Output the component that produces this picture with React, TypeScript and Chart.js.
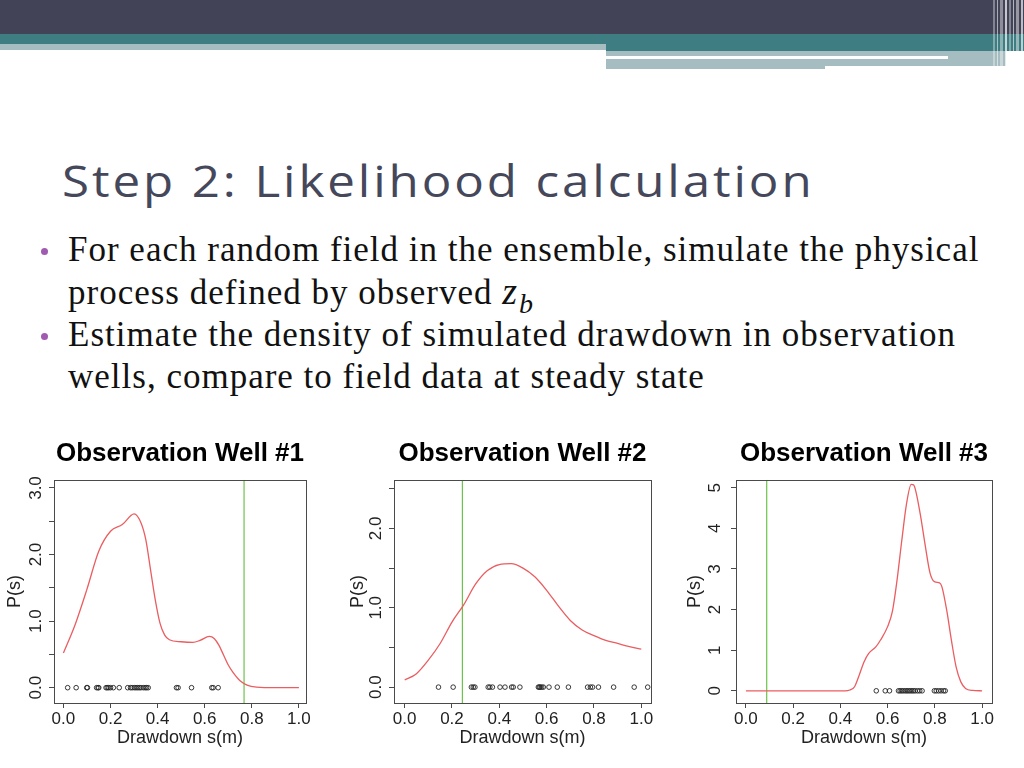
import React, { useEffect, useRef } from "react";
import { Chart, registerables } from "chart.js";

Chart.register(...registerables);

// ---------- data ----------
const chartTitles = ["Observation Well #1", "Observation Well #2", "Observation Well #3"];
const xAxisTitle = "Drawdown s(m)";
const yAxisTitle = "P(s)";

const xTickValues = [0, 0.2, 0.4, 0.6, 0.8, 1.0];
const xTickLabels = ["0.0", "0.2", "0.4", "0.6", "0.8", "1.0"];

// Well 1
const well1DensityX = [0, 0.05, 0.1, 0.15, 0.2, 0.25, 0.3, 0.33, 0.35, 0.37, 0.39, 0.41, 0.43, 0.45, 0.5, 0.55, 0.58, 0.62, 0.64, 0.66, 0.68, 0.7, 0.72, 0.75, 0.78, 0.82, 0.9, 1.0];
const well1DensityY = [0.52, 0.95, 1.48, 2.05, 2.35, 2.45, 2.61, 2.47, 2.22, 1.77, 1.32, 0.97, 0.79, 0.72, 0.69, 0.68, 0.71, 0.77, 0.74, 0.64, 0.49, 0.34, 0.23, 0.105, 0.04, 0.01, 0, 0];
const well1Samples = [0.018, 0.054, 0.099, 0.102, 0.141, 0.147, 0.15, 0.181, 0.186, 0.192, 0.2, 0.212, 0.237, 0.273, 0.285, 0.292, 0.301, 0.308, 0.315, 0.322, 0.329, 0.339, 0.347, 0.353, 0.36, 0.48, 0.487, 0.544, 0.63, 0.636, 0.657];
const well1Observed = 0.767;
const well1YTicks = [0, 0.5, 1, 1.5, 2, 2.5, 3];
const well1YLabels = ["0.0", "", "1.0", "", "2.0", "", "3.0"];

// Well 2
const well2DensityX = [0, 0.05, 0.1, 0.15, 0.2, 0.25, 0.3, 0.35, 0.4, 0.45, 0.5, 0.55, 0.6, 0.65, 0.7, 0.75, 0.8, 0.85, 0.9, 0.95, 1.0];
const well2DensityY = [0.09, 0.17, 0.34, 0.55, 0.82, 1.04, 1.3, 1.47, 1.545, 1.555, 1.5, 1.39, 1.22, 1.02, 0.84, 0.72, 0.65, 0.59, 0.55, 0.51, 0.48];
const well2Samples = [0.143, 0.205, 0.282, 0.29, 0.297, 0.353, 0.36, 0.371, 0.403, 0.424, 0.452, 0.459, 0.487, 0.565, 0.569, 0.573, 0.579, 0.586, 0.61, 0.645, 0.692, 0.773, 0.785, 0.794, 0.819, 0.883, 0.97, 1.027];
const well2Observed = 0.244;
const well2YTicks = [0, 0.5, 1, 1.5, 2, 2.5];
const well2YLabels = ["0.0", "", "1.0", "", "2.0", ""];

// Well 3
const well3DensityX = [0, 0.2, 0.42, 0.44, 0.46, 0.48, 0.5, 0.52, 0.55, 0.57, 0.6, 0.62, 0.64, 0.66, 0.68, 0.7, 0.71, 0.72, 0.74, 0.76, 0.78, 0.8, 0.82, 0.83, 0.85, 0.87, 0.89, 0.91, 0.93, 0.96, 1.0];
const well3DensityY = [0, 0, 0, 0.02, 0.1, 0.39, 0.71, 0.92, 1.08, 1.25, 1.58, 1.95, 2.73, 3.7, 4.6, 5.08, 5.07, 4.9, 4.29, 3.55, 2.89, 2.68, 2.66, 2.56, 1.99, 1.25, 0.59, 0.22, 0.06, 0.01, 0];
const well3Samples = [0.552, 0.59, 0.608, 0.646, 0.653, 0.66, 0.667, 0.675, 0.682, 0.689, 0.696, 0.703, 0.71, 0.717, 0.727, 0.736, 0.746, 0.798, 0.806, 0.816, 0.826, 0.837, 0.844];
const well3Observed = 0.088;
const well3YTicks = [0, 1, 2, 3, 4, 5];
const well3YLabels = ["0", "1", "2", "3", "4", "5"];

// ---------- chart setup ----------
const wells = [
  { title: chartTitles[0], dx: well1DensityX, dy: well1DensityY, samples: well1Samples, observed: well1Observed, yTicks: well1YTicks, yLabels: well1YLabels, xMin: -0.04, xMax: 1.03, yMin: -0.23, yMax: 3.12 },
  { title: chartTitles[1], dx: well2DensityX, dy: well2DensityY, samples: well2Samples, observed: well2Observed, yTicks: well2YTicks, yLabels: well2YLabels, xMin: -0.045, xMax: 1.041, yMin: -0.2, yMax: 2.61 },
  { title: chartTitles[2], dx: well3DensityX, dy: well3DensityY, samples: well3Samples, observed: well3Observed, yTicks: well3YTicks, yLabels: well3YLabels, xMin: -0.042, xMax: 1.042, yMin: -0.3, yMax: 5.19 },
];

const frames = [
  { left: 0, width: 320, padRight: 14, yAxisWidth: 54, yLabelPad: 1.2, yTitlePad: 4.2 },
  { left: 340, width: 330, padRight: 19, yAxisWidth: 54, yLabelPad: 1.2, yTitlePad: 7.2 },
  { left: 682, width: 342, padRight: 32, yAxisWidth: 54, yLabelPad: 11.3, yTitlePad: 2.2 },
];

const SANS = "'Liberation Sans', Arial, sans-serif";
const AXIS_COLOR = "#4a4a4a";
const TEXT_COLOR = "#222";

const boxPlugin = {
  id: "rbox",
  afterDraw(chart: any) {
    const { ctx, chartArea: a } = chart;
    ctx.save();
    ctx.strokeStyle = AXIS_COLOR;
    ctx.lineWidth = 1;
    const l = Math.round(a.left) + 0.5;
    const t = Math.round(a.top) + 0.5;
    ctx.strokeRect(l, t, Math.round(a.right) - Math.round(a.left), Math.round(a.bottom) - Math.round(a.top));
    ctx.restore();
  },
};

function WellChart({ idx }: { idx: number }) {
  const ref = useRef<HTMLCanvasElement | null>(null);
  const w = wells[idx];
  const f = frames[idx];
  useEffect(() => {
    if (!ref.current) return;
    const chart = new Chart(ref.current, {
      type: "line",
      data: {
        datasets: [
          {
            label: "density",
            data: w.dx.map((x, i) => ({ x, y: w.dy[i] })),
            borderColor: "#ea5d60",
            borderWidth: 1.3,
            pointRadius: 0,
            cubicInterpolationMode: "monotone",
            fill: false,
          },
          {
            label: "observed",
            data: [
              { x: w.observed, y: w.yMin },
              { x: w.observed, y: w.yMax },
            ],
            borderColor: "#6cc44a",
            borderWidth: 1.2,
            pointRadius: 0,
            fill: false,
          },
          {
            type: "scatter",
            label: "samples",
            data: w.samples.map((x) => ({ x, y: 0 })),
            showLine: false,
            pointRadius: 2.3,
            pointBorderWidth: 0.9,
            borderColor: "#222",
            backgroundColor: "rgba(0,0,0,0)",
            pointBackgroundColor: "rgba(0,0,0,0)",
            pointBorderColor: "#222",
          } as any,
        ],
      },
      options: {
        animation: false,
        responsive: false,
        events: [],
        layout: { padding: { left: 0, right: f.padRight, top: 0, bottom: 0 } },
        plugins: {
          legend: { display: false },
          tooltip: { enabled: false },
          title: {
            display: true,
            text: w.title,
            fullSize: false,
            color: "#000",
            font: { family: SANS, size: 26, weight: "bold", lineHeight: 1.2 },
            padding: { top: 8.4, bottom: 10.4 },
          },
        },
        scales: {
          x: {
            type: "linear",
            min: w.xMin,
            max: w.xMax,
            afterBuildTicks: (s: any) => {
              s.ticks = xTickValues.map((v) => ({ value: v }));
            },
            afterFit: (s: any) => {
              s.height = 65;
            },
            grid: { display: true, drawOnChartArea: false, drawTicks: true, tickLength: 5, color: AXIS_COLOR, lineWidth: 1 },
            border: { display: false },
            ticks: {
              autoSkip: false,
              maxRotation: 0,
              minRotation: 0,
              padding: 1,
              color: TEXT_COLOR,
              font: { family: SANS, size: 17 },
              callback: (_v: any, i: number) => xTickLabels[i],
            },
            title: {
              display: true,
              text: xAxisTitle,
              color: TEXT_COLOR,
              font: { family: SANS, size: 18, lineHeight: 1.2 },
              padding: { top: 0, bottom: 19.2 },
            },
          },
          y: {
            type: "linear",
            position: "left",
            min: w.yMin,
            max: w.yMax,
            afterBuildTicks: (s: any) => {
              s.ticks = w.yTicks.map((v) => ({ value: v }));
            },
            afterFit: (s: any) => {
              s.width = f.yAxisWidth;
            },
            grid: { display: true, drawOnChartArea: false, drawTicks: true, tickLength: 5, color: AXIS_COLOR, lineWidth: 1 },
            border: { display: false },
            ticks: {
              autoSkip: false,
              minRotation: 90,
              maxRotation: 90,
              crossAlign: "center",
              padding: f.yLabelPad,
              color: TEXT_COLOR,
              font: { family: SANS, size: 17 },
              callback: (_v: any, i: number) => w.yLabels[i],
            },
            title: {
              display: true,
              text: yAxisTitle,
              color: TEXT_COLOR,
              font: { family: SANS, size: 18, lineHeight: 1.2 },
              padding: { top: f.yTitlePad, bottom: 0 },
            },
          },
        },
      } as any,
      plugins: [boxPlugin],
    });
    return () => chart.destroy();
  }, [idx]);
  return (
    <canvas
      ref={ref}
      width={f.width}
      height={338}
      style={{ position: "absolute", left: f.left, top: 430, width: f.width, height: 338 }}
    />
  );
}

const headerStripes = [
  { x: 993, w: 2, a: 0.35 },
  { x: 997, w: 1, a: 0.55 },
  { x: 1000, w: 3, a: 0.4 },
  { x: 1005, w: 2, a: 0.7 },
  { x: 1009, w: 2, a: 0.35 },
  { x: 1013, w: 1, a: 0.6 },
  { x: 1016, w: 3, a: 0.45 },
  { x: 1021, w: 2, a: 0.65 },
];

const DARK = "#424356";
const TEAL = "#3e7d81";
const LIGHT = "#a5bdc1";

function Block(p: { x: number; y: number; w: number; h: number; c: string }) {
  return <div style={{ position: "absolute", left: p.x, top: p.y, width: p.w, height: p.h, background: p.c }} />;
}

const SERIF = "'Liberation Serif', 'Times New Roman', serif";
const bulletStyle: React.CSSProperties = {
  position: "absolute",
  left: 68,
  fontFamily: SERIF,
  fontSize: 35,
  lineHeight: "35px",
  letterSpacing: "1px",
  color: "#111",
  whiteSpace: "nowrap",
};

export default function App() {
  return (
    <div style={{ position: "absolute", left: 0, top: 0, width: 1024, height: 768, background: "#fff", overflow: "hidden" }}>
      {/* header */}
      <Block x={0} y={0} w={1024} h={34} c={DARK} />
      <Block x={0} y={34} w={608} h={10} c={TEAL} />
      <Block x={0} y={44} w={606} h={6} c={LIGHT} />
      <Block x={606} y={34} w={418} h={17} c={TEAL} />
      <Block x={606} y={51} w={400} h={15} c={LIGHT} />
      <Block x={606} y={56} w={342} h={3} c="#fff" />
      <Block x={606} y={66} w={219} h={3} c={LIGHT} />
      {headerStripes.map((s, i) => (
        <div key={i} style={{ position: "absolute", left: s.x, top: 0, width: s.w, height: 69, background: `rgba(255,255,255,${s.a})` }} />
      ))}

      {/* title */}
      <div
        style={{
          position: "absolute",
          left: 62,
          top: 158,
          fontFamily: "'Open Sans', 'DejaVu Sans', sans-serif",
          fontSize: 44,
          lineHeight: "44px",
          letterSpacing: "2.6px",
          color: "#45475b",
          whiteSpace: "nowrap",
          transform: "scaleX(1.12)",
          transformOrigin: "0 0",
        }}
      >
        Step 2: Likelihood calculation
      </div>

      {/* bullets */}
      <div style={{ position: "absolute", left: 41, top: 247.5, width: 7, height: 7, borderRadius: "50%", background: "#a05bb0" }} />
      <div style={{ position: "absolute", left: 41, top: 332.5, width: 7, height: 7, borderRadius: "50%", background: "#a05bb0" }} />
      <div style={{ ...bulletStyle, top: 232.4 }}>For each random field in the ensemble, simulate the physical</div>
      <div style={{ ...bulletStyle, top: 274 }}>
        process defined by observed{" "}
        <span style={{ fontStyle: "italic", fontSize: 38, letterSpacing: 0 }}>z</span>
        <span style={{ fontStyle: "italic", fontSize: 28, position: "relative", top: 9, letterSpacing: 0, marginLeft: 2 }}>b</span>
      </div>
      <div style={{ ...bulletStyle, top: 317.4 }}>Estimate the density of simulated drawdown in observation</div>
      <div style={{ ...bulletStyle, top: 359 }}>wells, compare to field data at steady state</div>

      {/* charts */}
      <WellChart idx={0} />
      <WellChart idx={1} />
      <WellChart idx={2} />
    </div>
  );
}
